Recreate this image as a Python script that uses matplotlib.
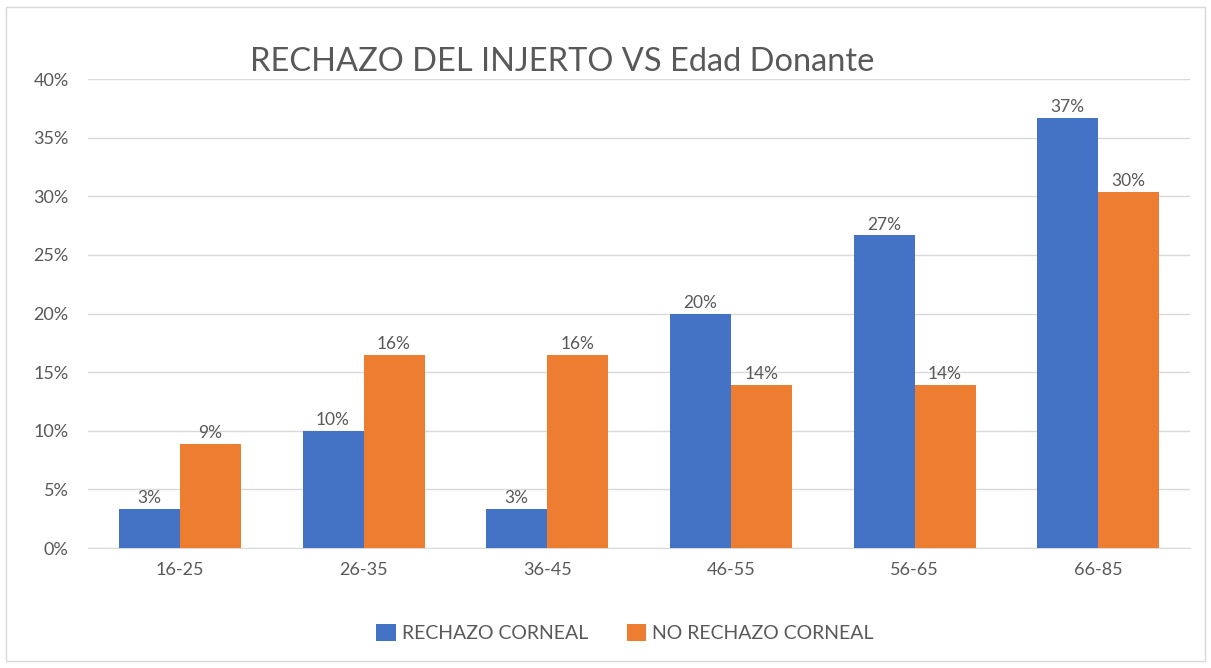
import numpy as np
import matplotlib.pyplot as plt
from matplotlib.patches import Rectangle
from matplotlib.ticker import PercentFormatter

categories = ['16-25', '26-35', '36-45', '46-55', '56-65', '66-85']
rechazo = [3.33, 10.0, 3.33, 20.0, 26.67, 36.67]
no_rechazo = [8.86, 16.46, 16.46, 13.92, 13.92, 30.38]
labels_rechazo = ['3%', '10%', '3%', '20%', '27%', '37%']
labels_no = ['9%', '16%', '16%', '14%', '14%', '30%']

plt.rcParams['font.family'] = ['Lato', 'DejaVu Sans']
gray = '#595959'
blue = '#4472C4'
orange = '#ED7D31'

fig = plt.figure(figsize=(12.11, 6.68), dpi=100)
fig.patches.append(Rectangle((0.005, 0.01), 0.99, 0.98, transform=fig.transFigure,
                             fill=False, edgecolor='#D9D9D9', linewidth=1))
ax = fig.add_axes([0.0727, 0.1796, 0.91, 0.7021])

x = np.arange(len(categories))
w = 0.332
b1 = ax.bar(x - w / 2, rechazo, w, color=blue, label='RECHAZO CORNEAL', zorder=3)
b2 = ax.bar(x + w / 2, no_rechazo, w, color=orange, label='NO RECHAZO CORNEAL', zorder=3)
ax.bar_label(b1, labels=labels_rechazo, padding=2, color=gray, fontsize=12.5)
ax.bar_label(b2, labels=labels_no, padding=2, color=gray, fontsize=12.5)

ax.set_ylim(0, 40)
ax.set_yticks(np.arange(0, 41, 5))
ax.yaxis.set_major_formatter(PercentFormatter(decimals=0))
ax.set_xlim(-0.5, len(categories) - 0.5)
ax.set_xticks(x)
ax.set_xticklabels(categories)
ax.grid(axis='y', color='#D9D9D9', linewidth=1, zorder=0)
for s in ['top', 'right', 'left']:
    ax.spines[s].set_visible(False)
ax.spines['bottom'].set_color('#D9D9D9')
ax.tick_params(length=0, colors=gray, labelsize=13, pad=10)
ax.tick_params(axis='y', pad=14)

fig.text(0.464, 0.907, 'RECHAZO DEL INJERTO VS Edad Donante', ha='center', va='center',
         fontsize=23.5, color=gray)
fig.legend(loc='center', bbox_to_anchor=(0.516, 0.052), ncol=2, frameon=False,
           fontsize=14, labelcolor=gray, handlelength=1, handleheight=1,
           handletextpad=0.3, columnspacing=2)

fig.savefig('out.png', dpi=100)
